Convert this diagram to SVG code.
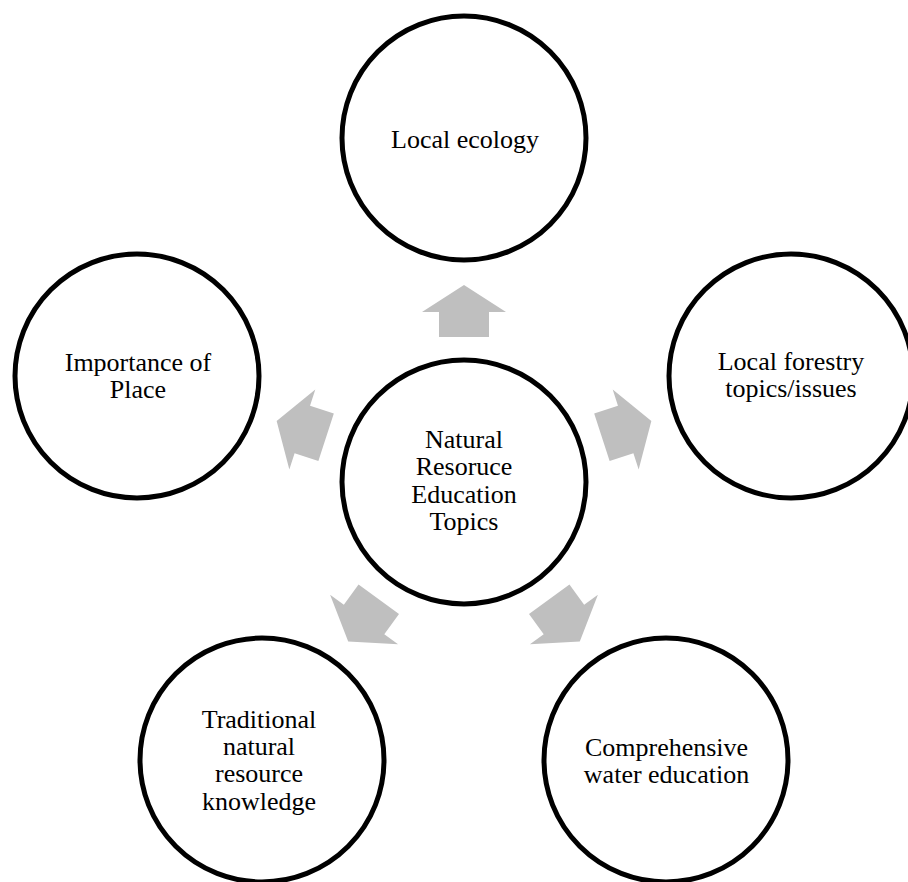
<svg xmlns="http://www.w3.org/2000/svg" xmlns:xlink="http://www.w3.org/1999/xlink" width="908" height="882" viewBox="0 0 908 882">
  <style>
    .node circle { fill: #ffffff; stroke: #000000; stroke-width: 5; }
    .node text { font-family: "Liberation Serif", "Times New Roman", serif; font-size: 26px; fill: #000000; text-anchor: middle; }
    .arrow { fill: #BFBFBF; stroke: none; }
  </style>
  <defs>
    <polygon id="arr" class="arrow" points="0,-197 42,-170 25,-170 25,-145 -25,-145 -25,-170 -42,-170"/>
  </defs>
  <rect width="908" height="882" fill="#ffffff"/>
  <g id="connectors" transform="translate(464,482)">
    <use xlink:href="#arr" href="#arr" transform="rotate(0)"/>
    <use xlink:href="#arr" href="#arr" transform="rotate(72)"/>
    <use xlink:href="#arr" href="#arr" transform="rotate(144)"/>
    <use xlink:href="#arr" href="#arr" transform="rotate(216)"/>
    <use xlink:href="#arr" href="#arr" transform="rotate(288)"/>
  </g>
  <g id="center" class="node">
    <circle cx="464" cy="482" r="122"/>
    <text x="464" y="447.5">Natural</text>
    <text x="464" y="475">Resoruce</text>
    <text x="464" y="502.5">Education</text>
    <text x="464" y="530">Topics</text>
  </g>
  <g id="local-ecology" class="node">
    <circle cx="464" cy="138" r="122"/>
    <text x="465" y="148">Local ecology</text>
  </g>
  <g id="local-forestry" class="node">
    <circle cx="791" cy="376" r="122"/>
    <text x="791" y="370">Local forestry</text>
    <text x="791" y="397">topics/issues</text>
  </g>
  <g id="water-education" class="node">
    <circle cx="666" cy="760" r="122"/>
    <text x="666.5" y="755.5">Comprehensive</text>
    <text x="666.5" y="782.5">water education</text>
  </g>
  <g id="traditional-knowledge" class="node">
    <circle cx="262" cy="760" r="122"/>
    <text x="259" y="727.5">Traditional</text>
    <text x="259" y="754.5">natural</text>
    <text x="259" y="782">resource</text>
    <text x="259" y="809.5">knowledge</text>
  </g>
  <g id="importance-of-place" class="node">
    <circle cx="137" cy="376" r="122"/>
    <text x="138" y="370.5">Importance of</text>
    <text x="138" y="397.5">Place</text>
  </g>
</svg>
